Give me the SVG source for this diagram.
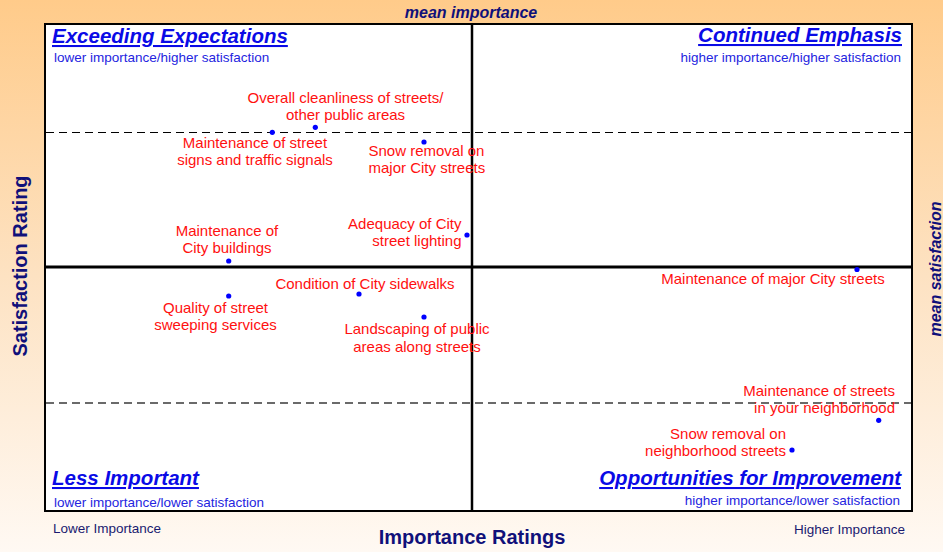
<svg xmlns="http://www.w3.org/2000/svg" width="943" height="552" viewBox="0 0 943 552">
<defs>
<linearGradient id="bg" x1="0" y1="0" x2="0" y2="1">
<stop offset="0" stop-color="#FFCB8A"/>
<stop offset="0.5" stop-color="#FDE2C2"/>
<stop offset="1" stop-color="#FFF9F3"/>
</linearGradient>
<style>
.lbl{font-family:"Liberation Sans",Arial,sans-serif;font-size:15px;fill:#FF1010}
.dot{fill:#0000FF}
.title{font-family:"Liberation Sans",Arial,sans-serif;font-size:20.5px;font-weight:bold;font-style:italic;fill:#0A0AE6;text-decoration:underline}
.sub{font-family:"Liberation Sans",Arial,sans-serif;font-size:13.5px;fill:#2424E0}
.axis{font-family:"Liberation Sans",Arial,sans-serif;font-weight:bold;fill:#10107A}
.end{font-family:"Liberation Sans",Arial,sans-serif;font-size:13.5px;fill:#1A1A70}
</style>
</defs>
<rect x="0" y="0" width="943" height="552" fill="url(#bg)"/>
<g id="plot">
<rect x="45" y="24" width="867" height="487" fill="#FFFFFF" stroke="#000" stroke-width="2"/>
<line x1="46" y1="132.5" x2="911" y2="132.5" stroke="#000" stroke-width="1" stroke-dasharray="8,5"/>
<line x1="46" y1="403" x2="911" y2="403" stroke="#6A6A6A" stroke-width="2" stroke-dasharray="8,5"/>
<line x1="472" y1="25" x2="472" y2="510" stroke="#000" stroke-width="2.5"/>
<line x1="46" y1="267" x2="911" y2="267" stroke="#000" stroke-width="3"/>
</g>
<g id="axes">
<text class="axis" x="471" y="18" font-size="16" font-style="italic" text-anchor="middle">mean importance</text>
<text class="axis" x="472" y="544" font-size="20" text-anchor="middle">Importance Ratings</text>
<text class="axis" font-size="20" text-anchor="middle" transform="translate(26.5,266) rotate(-90)">Satisfaction Rating</text>
<text class="axis" font-size="16" font-style="italic" text-anchor="middle" transform="translate(940.5,269) rotate(-90)">mean satisfaction</text>
<text class="end" x="53" y="533">Lower Importance</text>
<text class="end" x="905" y="534" text-anchor="end">Higher Importance</text>
</g>
<g id="quadrants">
<text class="title" x="52" y="43">Exceeding Expectations</text>
<text class="sub" x="54" y="62">lower importance/higher satisfaction</text>
<text class="title" x="902" y="42" text-anchor="end">Continued Emphasis</text>
<text class="sub" x="901" y="62" text-anchor="end">higher importance/higher satisfaction</text>
<text class="title" x="52" y="485">Less Important</text>
<text class="sub" x="54" y="507">lower importance/lower satisfaction</text>
<text class="title" x="901" y="485" text-anchor="end">Opportunities for Improvement</text>
<text class="sub" x="900" y="505" text-anchor="end">higher importance/lower satisfaction</text>
</g>
<g id="p-cleanliness">
<circle class="dot" cx="315.3" cy="127.3" r="2.6"/>
<text class="lbl" x="345.5" y="103" text-anchor="middle">Overall cleanliness of streets/</text>
<text class="lbl" x="345.5" y="120" text-anchor="middle">other public areas</text>
</g>
<g id="p-signs">
<circle class="dot" cx="272.3" cy="132.3" r="2.6"/>
<text class="lbl" x="255" y="147.5" text-anchor="middle">Maintenance of street</text>
<text class="lbl" x="255" y="164.5" text-anchor="middle">signs and traffic signals</text>
</g>
<g id="p-snow-major">
<circle class="dot" cx="424" cy="142" r="2.6"/>
<text class="lbl" x="368.5" y="156">Snow removal on</text>
<text class="lbl" x="368.5" y="172.5">major City streets</text>
</g>
<g id="p-lighting">
<circle class="dot" cx="467" cy="235" r="2.6"/>
<text class="lbl" x="461.5" y="228.5" text-anchor="end">Adequacy of City</text>
<text class="lbl" x="461.5" y="245.5" text-anchor="end">street lighting</text>
</g>
<g id="p-buildings">
<circle class="dot" cx="228.7" cy="261" r="2.6"/>
<text class="lbl" x="227" y="236" text-anchor="middle">Maintenance of</text>
<text class="lbl" x="227" y="253" text-anchor="middle">City buildings</text>
</g>
<g id="p-sidewalks">
<circle class="dot" cx="359" cy="294" r="2.6"/>
<text class="lbl" x="365" y="289" text-anchor="middle">Condition of City sidewalks</text>
</g>
<g id="p-sweeping">
<circle class="dot" cx="228.7" cy="296" r="2.6"/>
<text class="lbl" x="215.5" y="313" text-anchor="middle">Quality of street</text>
<text class="lbl" x="215.5" y="330" text-anchor="middle">sweeping services</text>
</g>
<g id="p-landscaping">
<circle class="dot" cx="424" cy="317" r="2.6"/>
<text class="lbl" x="417" y="334" text-anchor="middle">Landscaping of public</text>
<text class="lbl" x="417" y="351.5" text-anchor="middle">areas along streets</text>
</g>
<g id="p-major-streets">
<circle class="dot" cx="857" cy="269.5" r="2.6"/>
<text class="lbl" x="773" y="284" text-anchor="middle">Maintenance of major City streets</text>
</g>
<g id="p-neighborhood">
<circle class="dot" cx="878.7" cy="420.3" r="2.6"/>
<text class="lbl" x="895" y="396" text-anchor="end">Maintenance of streets</text>
<text class="lbl" x="895" y="413" text-anchor="end">in your neighborhood</text>
</g>
<g id="p-snow-neighborhood">
<circle class="dot" cx="792" cy="450" r="2.6"/>
<text class="lbl" x="786" y="438.5" text-anchor="end">Snow removal on</text>
<text class="lbl" x="786" y="455.5" text-anchor="end">neighborhood streets</text>
</g>
</svg>
